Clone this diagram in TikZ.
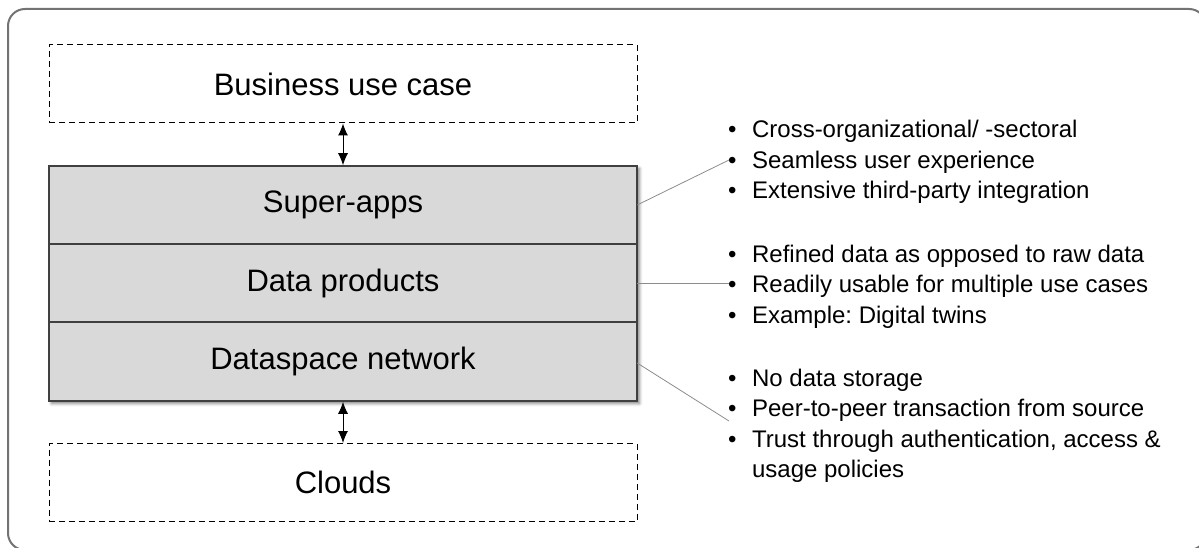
\documentclass[tikz,border=0pt]{standalone}
\usepackage{fontspec}
\setmainfont{Liberation Sans}
\usetikzlibrary{arrows.meta,shadows.blur}
\frenchspacing
\begin{document}
\begin{tikzpicture}[x=1pt,y=-1pt,
  frame/.style={draw=black!55, line width=2pt, rounded corners=17pt},
  dashbox/.style={draw=black, dash pattern=on 6pt off 4pt, line width=1pt,
    minimum width=588pt, minimum height=78pt, inner sep=0pt,
    font=\fontsize{31}{37}\selectfont},
  stackbox/.style={fill=black!15, draw=black!75, line width=1.5pt,
    minimum width=588pt, minimum height=235pt, inner sep=0pt,
    blur shadow={shadow xshift=2.5pt, shadow yshift=-2.5pt,
      shadow blur radius=3pt, shadow opacity=50}},
  layer/.style={minimum width=588pt, minimum height=78pt, inner sep=0pt,
    font=\fontsize{31}{37}\selectfont},
  divider/.style={draw=black!75, line width=1.5pt},
  link/.style={draw=black!45, line width=0.8pt},
  dblarrow/.style={{Latex[length=12pt,width=10pt]}-{Latex[length=12pt,width=10pt]}, line width=1pt},
  notes/.style={anchor=base west, inner sep=0pt,
    font=\fontsize{24}{30.5}\selectfont}
]
\useasboundingbox (0,0) rectangle (1199,548);
\clip (0,0) rectangle (1199,548);

% outer rounded frame (runs past the page edges on the right and bottom)
\draw[frame] (8,9) rectangle (1206,550);

% top and bottom dashed boxes
\node[dashbox] (buc) at (343,84) {Business use case};
\node[dashbox] (cl) at (343,482.5) {Clouds};

% the three-layer stack
\node[stackbox] (stack) at (343,283.5) {};
\node[layer] (sa) at (343,205) {Super-apps};
\node[layer] (dp) at (343,283) {Data products};
\node[layer] (dn) at (343,361) {Dataspace network};
\draw[divider] (sa.south west) -- (sa.south east);
\draw[divider] (dp.south west) -- (dp.south east);

% two-way links to the outer layers
\draw[dblarrow] (buc.south) -- (stack.north);
\draw[dblarrow] (stack.south) -- (cl.north);

% bullet notes
\newcommand{\bl}{\textbullet}
\node[notes] (n1) at (728,138) {\begin{tabular}[t]{@{}l@{\hspace{15.5pt}}l@{}}
  \bl & Cross-organizational/ -sectoral\\
  \bl & Seamless user experience\\
  \bl & Extensive third-party integration
\end{tabular}};
\node[notes] (n2) at (728,262) {\begin{tabular}[t]{@{}l@{\hspace{15.5pt}}l@{}}
  \bl & Refined data as opposed to raw data\\
  \bl & Readily usable for multiple use cases\\
  \bl & Example: Digital twins
\end{tabular}};
\node[notes] (n3) at (728,386) {\begin{tabular}[t]{@{}l@{\hspace{15.5pt}}l@{}}
  \bl & No data storage\\
  \bl & Peer-to-peer transaction from source\\
  \bl & Trust through authentication, access \&\\
      & usage policies
\end{tabular}};

% leader lines from the layers to their notes
\coordinate (t1) at (729,160);
\coordinate (t2) at (729,283);
\coordinate (t3) at (729,421);
\draw[link] (sa.east) -- (t1);
\draw[link] (dp.east) -- (t2);
\draw[link] ([yshift=-2pt]dn.east) -- (t3);
\end{tikzpicture}
\end{document}
